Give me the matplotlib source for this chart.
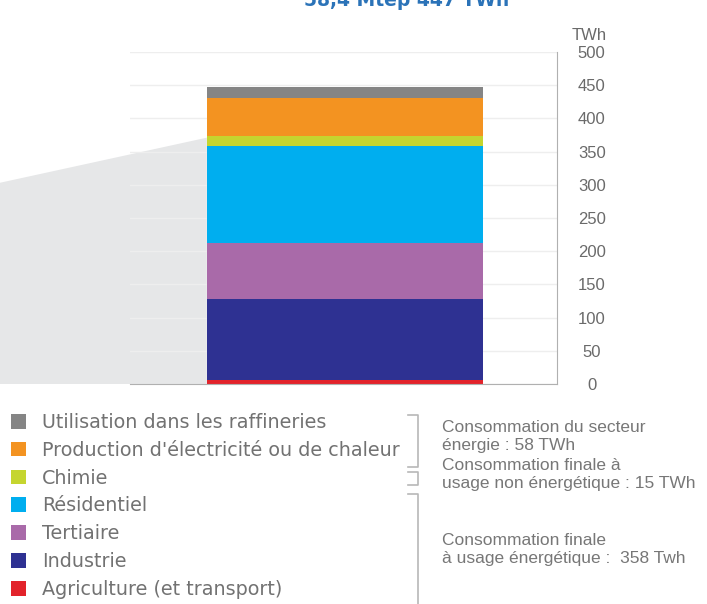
import matplotlib.pyplot as plt
from matplotlib.patches import Polygon
from matplotlib.lines import Line2D
from matplotlib.transforms import blended_transform_factory

# consommation par secteur, du bas vers le haut de la barre (TWh)
secteurs = ['Agriculture (et transport)', 'Industrie', 'Tertiaire', 'Résidentiel',
            'Chimie', "Production d'électricité ou de chaleur",
            'Utilisation dans les raffineries']
valeurs_twh = [6, 122, 85, 145, 15, 58, 16]
couleurs = ['#e2232b', '#2e3192', '#a96aa9', '#00aeef', '#c5d52f', '#f39321', '#858585']

yticks = [0, 50, 100, 150, 200, 250, 300, 350, 400, 450, 500]

# regroupements affichés à droite de la légende
groupes = ['Consommation du secteur\nénergie : 58 TWh',
           'Consommation finale à\nusage non énergétique : 15 TWh',
           'Consommation finale\nà usage énergétique :  358 Twh']

W, H = 707, 604


def fx(x):
    return x / W


def fy(y):
    return 1 - y / H


fig = plt.figure(figsize=(W / 100, H / 100), dpi=100)
ax = fig.add_axes([fx(130), fy(384), fx(557) - fx(130), (384 - 52) / H])

# barre empilée
bas = 0
barres = []
for nom, v, c in zip(secteurs, valeurs_twh, couleurs):
    b = ax.bar(0.5035, v, width=0.647, bottom=bas, color=c, label=nom, zorder=2)
    barres.append(b)
    bas += v

ax.set_xlim(0, 1)
ax.set_ylim(0, 500)
ax.set_xticks([])
ax.set_yticks(yticks)

# zone grise (zoom depuis le graphique de gauche)
trans = blended_transform_factory(ax.transAxes, ax.transData)
fin_zoom = sum(valeurs_twh[:5])
coin = Polygon([(-0.305, 0), (-0.305, 303), (0.18, fin_zoom - 2), (0.18, 0)],
               closed=True, transform=trans, facecolor='#e6e7e8',
               edgecolor='none', clip_on=False, zorder=0.3)
ax.add_patch(coin)

ax.set_axisbelow(True)
ax.yaxis.grid(True, color='#eeeeee', linewidth=1.0)

for s in ['top', 'left']:
    ax.spines[s].set_visible(False)
ax.spines['right'].set_color('#b0b0b0')
ax.spines['bottom'].set_color('#b0b0b0')
ax.yaxis.tick_right()
ax.tick_params(axis='y', length=0, pad=25, labelsize=12, labelcolor='#6a6a6a')
for lab in ax.get_yticklabels():
    lab.set_horizontalalignment('center')
    lab.set_family('Liberation Sans')

fig.text(fx(589), fy(35), 'TWh', ha='center', va='center', fontsize=12,
         color='#6a6a6a', family='Liberation Sans')

# titre (coupé en haut)
fig.text(fx(407), fy(6), '58,4 Mtep 447 TWh', ha='center', va='baseline',
         fontsize=13.5, fontweight='bold', color='#2b73b8')

# légende, du haut vers le bas
leg = fig.legend(handles=barres[::-1], labels=secteurs[::-1], loc='upper left',
                 bbox_to_anchor=(fx(11), fy(413)), frameon=False, fontsize=13.8,
                 handlelength=0.8, handleheight=0.8, handletextpad=0.8,
                 labelspacing=0.46, borderpad=0, borderaxespad=0)
for t in leg.get_texts():
    t.set_color('#727272')

# accolades
for y0, y1 in [(415, 467), (472, 485), (494, 620)]:
    fig.add_artist(Line2D([fx(408), fx(418), fx(418), fx(408)],
                          [fy(y0), fy(y0), fy(y1), fy(y1)],
                          color='#b8b8b8', linewidth=1.2))

for txt, y in zip(groupes, [436.5, 474.5, 549.5]):
    fig.text(fx(442), fy(y), txt, ha='left', va='center', fontsize=12.5,
             color='#777777', family='Liberation Sans', linespacing=1.3)

fig.savefig('out.png', dpi=100)
